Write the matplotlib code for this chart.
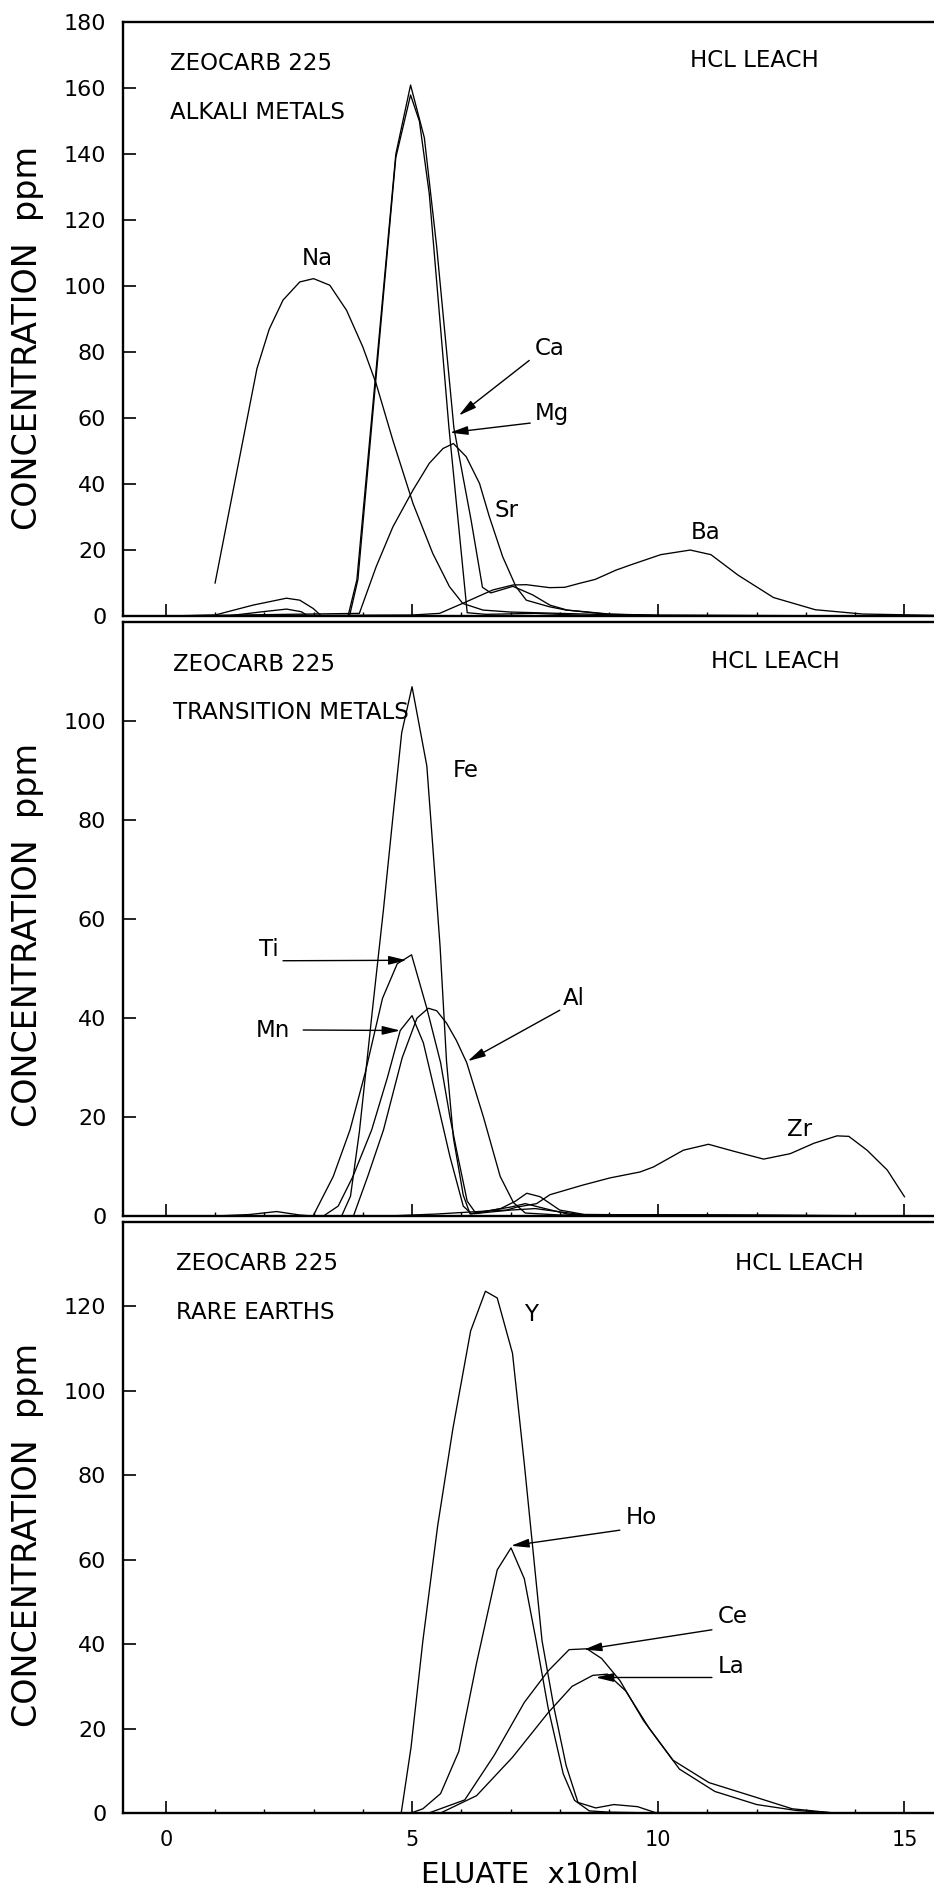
import matplotlib
matplotlib.use("Agg")
import matplotlib.pyplot as plt
from matplotlib.ticker import MultipleLocator, FixedLocator

plt.rcParams['font.family'] = ['DejaVu Sans']

# ---------------- data: top panel (alkali metals) ----------------
na_x = [1.0, 1.85, 2.1, 2.38, 2.72, 3.0, 3.33, 3.67, 4.0, 4.27, 4.61, 5.02, 5.42, 5.76, 6.03, 6.44, 7.0, 8.0, 9.0, 10.0, 15.6]
na_y = [10, 75, 87, 95.8, 101.3, 102.3, 100.3, 92.7, 81.6, 70.5, 53.3, 34.1, 19, 8.9, 3.8, 1.8, 1.2, 0.8, 0.4, 0.1, 0]

ca_x = [0, 1.0, 1.77, 2.45, 2.72, 2.99, 3.16, 3.7, 3.88, 4.67, 4.97, 5.25, 5.5, 5.85, 6.2, 6.43, 6.6, 7.05, 7.45, 7.8, 8.15, 9.0, 10.0, 15.6]
ca_y = [0, 0.3, 3.3, 5.4, 4.8, 2.3, 0, 0, 11, 140, 161, 145, 112, 57, 29, 8.7, 7, 9, 6.4, 3.3, 1.8, 0.6, 0.2, 0]

mg_x = [0, 1.23, 1.97, 2.45, 2.75, 2.89, 3.73, 3.9, 4.67, 4.97, 5.15, 5.35, 5.75, 6.12, 6.5, 7.5, 8.5, 15.6]
mg_y = [0, 0, 1.3, 2.1, 1.3, 0, 0, 11, 139, 158, 150, 128, 57, 1, 0.5, 0.8, 0.2, 0]

sr_x = [0, 3.93, 4.27, 4.61, 5.02, 5.35, 5.63, 5.84, 6.1, 6.37, 6.57, 6.84, 7.11, 7.32, 7.79, 8.13, 9.0, 10.0, 15.6]
sr_y = [0, 0.8, 14.9, 27, 38.2, 46.3, 50.8, 52.3, 48.3, 40.2, 30.1, 18, 8.9, 4.8, 2.8, 1.8, 0.5, 0.2, 0]

ba_x = [0, 5.0, 5.56, 6.1, 6.64, 7.05, 7.32, 7.79, 8.1, 8.4, 8.72, 9.14, 9.44, 10.05, 10.65, 11.07, 11.62, 12.34, 13.19, 14.15, 15.6]
ba_y = [0, 0.3, 0.8, 4.3, 7.9, 9.4, 9.5, 8.6, 8.7, 9.9, 11.1, 13.9, 15.5, 18.6, 20, 18.6, 12.4, 5.6, 1.9, 0.6, 0.2]

# ---------------- data: middle panel (transition metals) ----------------
fe_x = [0, 3.57, 3.75, 3.93, 4.21, 4.42, 4.62, 4.79, 5.0, 5.3, 5.4, 5.57, 5.7, 5.84, 6.04, 6.18, 7.0, 7.5, 8.5, 15.6]
fe_y = [0, 0, 4, 17, 43, 62, 81.5, 97.7, 107, 91, 77.6, 54.4, 31.3, 15.8, 4.2, 0.4, 1.2, 1.5, 0.2, 0]

ti_x = [0, 1.0, 1.7, 2.25, 2.72, 2.99, 3.4, 3.74, 4.05, 4.4, 4.7, 4.99, 5.3, 5.58, 5.77, 5.9, 6.12, 6.3, 6.8, 7.1, 7.33, 7.6, 8.0, 8.5, 15.6]
ti_y = [0, 0, 0.3, 0.9, 0.2, 0, 8, 17.4, 29, 44, 51, 52.8, 42, 31, 20, 13.5, 3, 0.5, 1.5, 3, 4.6, 3.9, 1.2, 0.3, 0]

mn_x = [0, 3.2, 3.5, 3.8, 4.18, 4.5, 4.76, 5.0, 5.23, 5.5, 5.77, 6.04, 6.2, 7.0, 7.3, 7.7, 8.2, 15.6]
mn_y = [0, 0, 2, 8, 17.4, 28, 37.5, 40.5, 35, 23.6, 12, 2, 0.5, 1.8, 2.5, 1.5, 0.3, 0]

al_x = [0, 3.81, 4.1, 4.42, 4.8, 5.1, 5.33, 5.5, 5.7, 5.9, 6.11, 6.45, 6.79, 7.06, 7.3, 8.0, 15.6]
al_y = [0, 0, 8, 17.4, 32, 40, 42, 41.5, 39, 35.5, 31, 20, 8, 2.7, 0.6, 0.2, 0]

zr_x = [0, 4.5, 5.5, 6.5, 6.92, 7.13, 7.53, 7.8, 8.45, 9.02, 9.63, 9.9, 10.51, 11.02, 11.53, 12.14, 12.68, 13.16, 13.63, 13.87, 14.24, 14.65, 15.0]
zr_y = [0, 0, 0.4, 1.0, 1.2, 1.8, 2.5, 4.3, 6.2, 7.7, 8.9, 9.9, 13.3, 14.5, 13.1, 11.5, 12.6, 14.7, 16.2, 16.1, 13.3, 9.3, 3.9]

# ---------------- data: bottom panel (rare earths) ----------------
y_x = [0, 4.78, 4.98, 5.22, 5.52, 5.83, 6.19, 6.49, 6.73, 7.04, 7.28, 7.46, 7.64, 7.88, 8.13, 8.37, 8.73, 9.1, 9.58, 9.94, 15.6]
y_y = [0, 0, 15.6, 40.8, 68, 91.1, 114.2, 123.6, 122, 108.9, 82.7, 61.8, 40.8, 25.1, 11.2, 2.5, 1.2, 2, 1.5, 0.1, 0]

ho_x = [0, 4.98, 5.22, 5.58, 5.95, 6.31, 6.73, 7.01, 7.28, 7.52, 7.76, 8.07, 8.3, 8.6, 9.0, 10.0, 15.6]
ho_y = [0, 0, 1, 4.6, 14.6, 35.5, 57.6, 62.8, 55.5, 40.8, 25.1, 9.3, 3, 0.5, 0.2, 0, 0]

ce_x = [0, 5.34, 6.07, 6.67, 7.28, 7.76, 8.19, 8.55, 8.85, 9.22, 9.7, 10.3, 11.03, 11.88, 12.72, 13.57, 15.6]
ce_y = [0, 0, 3.1, 13.7, 26.2, 33.6, 38.7, 38.9, 36.6, 31.4, 21.9, 12.5, 7.2, 4.1, 1, 0, 0]

la_x = [0, 5.58, 6.31, 7.04, 7.76, 8.25, 8.67, 8.97, 9.34, 9.82, 10.43, 11.15, 12.0, 12.8, 13.6, 15.6]
la_y = [0, 0, 4.1, 13.2, 23.7, 30, 32.6, 32.9, 28.9, 20, 10.4, 5.1, 2, 0.6, 0, 0]

x_ticks = [0, 5, 10, 15]
x_tick_labels = ['0', '5', '10', '15']
panel_titles = ['ALKALI METALS', 'TRANSITION METALS', 'RARE EARTHS']
resin_label = 'ZEOCARB 225'
leach_label = 'HCL LEACH'
ylabel_text = 'CONCENTRATION  ppm'
xlabel_text = 'ELUATE  x10ml'

# ---------------- figure ----------------
W, H = 934, 1892
fig = plt.figure(figsize=(W / 100, H / 100), dpi=100)

def px_axes(top, bottom, left=123, right=934):
    return [left / W, 1 - bottom / H, (right - left) / W, (bottom - top) / H]

ax1 = fig.add_axes(px_axes(22.4, 616))
ax2 = fig.add_axes(px_axes(622.4, 1216))
ax3 = fig.add_axes(px_axes(1222, 1813))

lw = 0.95
TXT = 16.5

def style(ax, ymax, ylabels_max, show_x):
    ax.set_xlim(-0.87, 15.6)
    ax.set_ylim(0, ymax)
    for s in ['left', 'bottom', 'top']:
        ax.spines[s].set_linewidth(1.7)
    ax.spines['right'].set_visible(False)
    ax.xaxis.set_major_locator(FixedLocator(x_ticks))
    ax.xaxis.set_minor_locator(MultipleLocator(1))
    ax.yaxis.set_major_locator(FixedLocator(list(range(0, ylabels_max + 1, 20))))
    ax.tick_params(axis='both', which='major', direction='in', length=9, width=1.2,
                   labelsize=16, pad=12)
    ax.tick_params(axis='x', which='minor', direction='in', length=3, width=1.0)
    ax.tick_params(axis='y', which='minor', left=False)
    ax.tick_params(top=False, right=False)
    if show_x:
        ax.set_xticklabels(x_tick_labels, fontsize=15)
    else:
        ax.tick_params(axis='x', labelbottom=False)

style(ax1, 180, 180, False)
style(ax2, 120, 100, False)
style(ax3, 140, 120, True)

def curves(ax, series):
    for xs, ys in series:
        ax.plot(xs, ys, color='black', lw=lw, solid_joinstyle='round')

curves(ax1, [(na_x, na_y), (ca_x, ca_y), (mg_x, mg_y), (sr_x, sr_y), (ba_x, ba_y)])
curves(ax2, [(fe_x, fe_y), (ti_x, ti_y), (mn_x, mn_y), (al_x, al_y), (zr_x, zr_y)])
curves(ax3, [(y_x, y_y), (ho_x, ho_y), (ce_x, ce_y), (la_x, la_y)])

def arrow(ax, start, tip):
    ax.annotate('', xy=tip, xytext=start,
                arrowprops=dict(arrowstyle='-|>,head_length=0.9,head_width=0.22',
                                color='black', lw=1.0, shrinkA=0, shrinkB=0,
                                mutation_scale=12))

def lab(ax, x, y, s, ha='left'):
    ax.text(x, y, s, fontsize=TXT, ha=ha, va='center', color='black')

# top panel texts
lab(ax1, 0.08, 167.5, resin_label)
lab(ax1, 0.08, 152.7, panel_titles[0])
lab(ax1, 10.64, 168.4, leach_label)
lab(ax1, 3.07, 108.4, 'Na', ha='center')
lab(ax1, 7.5, 81, 'Ca')
lab(ax1, 7.5, 61.5, 'Mg')
lab(ax1, 6.67, 32.1, 'Sr')
lab(ax1, 10.67, 25.3, 'Ba')
arrow(ax1, (7.38, 77.5), (5.95, 60.8))
arrow(ax1, (7.4, 58.5), (5.77, 55.6))

# middle panel texts
lab(ax2, 0.14, 111.5, resin_label)
lab(ax2, 0.14, 101.7, panel_titles[1])
lab(ax2, 11.07, 112.1, leach_label)
lab(ax2, 5.83, 90.1, 'Fe')
lab(ax2, 1.89, 53.9, 'Ti')
lab(ax2, 1.83, 37.5, 'Mn')
lab(ax2, 8.07, 44, 'Al')
lab(ax2, 12.62, 17.4, 'Zr')
arrow(ax2, (2.38, 51.6), (4.89, 51.7))
arrow(ax2, (2.79, 37.6), (4.76, 37.5))
arrow(ax2, (8.0, 41.6), (6.13, 31.3))

# bottom panel texts
lab(ax3, 0.2, 130.1, resin_label)
lab(ax3, 0.2, 118.6, panel_titles[2])
lab(ax3, 11.55, 130.1, leach_label)
lab(ax3, 7.28, 118.1, 'Y')
lab(ax3, 9.34, 69.9, 'Ho')
lab(ax3, 11.21, 46.6, 'Ce')
lab(ax3, 11.21, 34.7, 'La')
arrow(ax3, (9.22, 67), (7.01, 63.3))
arrow(ax3, (11.09, 43.4), (8.49, 38.7))
arrow(ax3, (11.09, 32.1), (8.73, 32.1))

# axis labels
for yc in (338, 935, 1535):
    fig.text(28 / W, 1 - yc / H, ylabel_text, rotation=90, ha='center', va='center',
             fontsize=24)
fig.text(530 / W, 1 - 1875 / H, xlabel_text, ha='center', va='center', fontsize=21)

fig.savefig('out.png', dpi=100)
